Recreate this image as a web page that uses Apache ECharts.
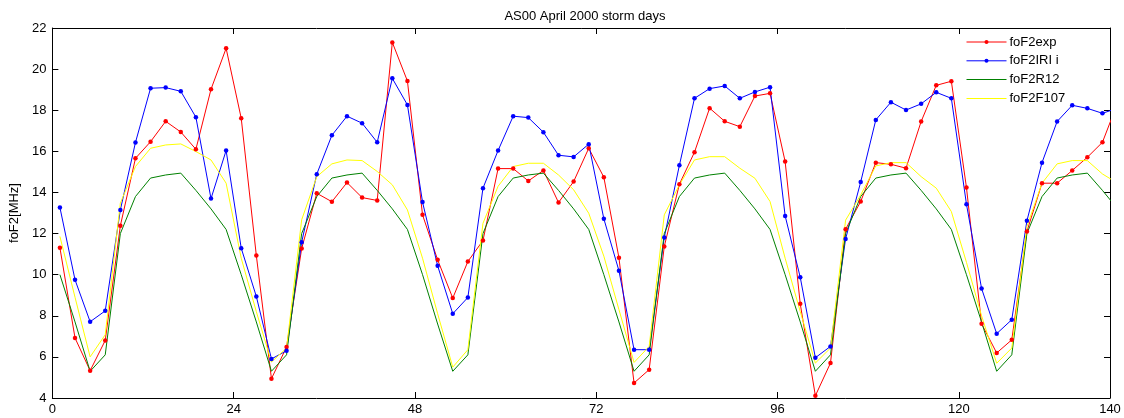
<!DOCTYPE html>
<html>
<head>
<meta charset="utf-8">
<script src="https://cdn.jsdelivr.net/npm/echarts@6/dist/echarts.min.js"></script>
<style>
html,body{margin:0;padding:0;background:#fff;}
#chart{width:1124px;height:418px;}
</style>
</head>
<body>
<div id="chart"></div>
<script>
// Hours (UT, odd hours) of each sample
const hours = [1,3,5,7,9,11,13,15,17,19,21,23,
  25,27,29,31,33,35,37,39,41,43,45,47,
  49,51,53,55,57,59,61,63,65,67,69,71,
  73,75,77,79,81,83,85,87,89,91,93,95,
  97,99,101,103,105,107,109,111,113,115,117,119,
  121,123,125,127,129,131,133,135,137,139,141];

const foF2exp = [11.31,6.92,5.33,6.80,12.38,15.66,16.47,17.46,16.94,16.10,19.02,21.01,
  17.61,10.93,4.94,6.48,11.27,13.96,13.55,14.48,13.75,13.61,21.30,19.42,
  12.91,10.72,8.86,10.64,11.66,15.16,15.16,14.56,15.07,13.51,14.53,16.15,
  14.74,10.82,4.73,5.38,11.37,14.40,15.96,18.10,17.46,17.20,18.69,18.82,
  15.50,8.58,4.11,5.70,12.21,13.56,15.45,15.37,15.18,17.45,19.21,19.41,
  14.24,7.61,6.19,6.83,12.10,14.45,14.45,15.07,15.71,16.44,18.35];

const foF2IRI = [13.27,9.75,7.71,8.24,13.15,16.43,19.07,19.10,18.92,17.66,13.70,16.04,
  11.29,8.94,5.90,6.30,11.58,14.89,16.78,17.71,17.37,16.44,19.55,18.26,
  13.53,10.43,8.10,8.89,14.21,16.04,17.71,17.64,16.93,15.81,15.73,16.35,
  12.72,10.19,6.35,6.35,11.81,15.32,18.58,19.05,19.18,18.58,18.89,19.12,
  12.86,9.87,5.96,6.51,11.74,14.51,17.53,18.39,18.01,18.31,18.87,18.58,
  13.43,9.33,7.13,7.81,12.62,15.45,17.45,18.24,18.09,17.85,18.10];

const foF2R12 = [10.0,7.7,5.3,6.1,12.0,13.8,14.7,14.85,14.94,14.1,13.2,12.2,
  10.0,7.7,5.3,6.1,12.0,13.8,14.7,14.85,14.94,14.1,13.2,12.2,
  10.0,7.6,5.3,6.1,12.0,13.8,14.7,14.85,14.94,14.1,13.2,12.2,
  10.0,7.7,5.3,6.1,12.0,13.8,14.7,14.85,14.94,14.1,13.2,12.2,
  10.0,7.7,5.3,6.1,12.0,13.8,14.7,14.85,14.94,14.1,13.2,12.2,
  10.0,7.7,5.3,6.1,12.0,13.8,14.7,14.85,14.94,14.1,13.2];

const foF2F107 = [11.86,8.9,6.0,7.08,13.48,15.26,16.15,16.31,16.36,15.99,15.58,14.45,
  10.8,8.2,5.75,6.43,12.67,14.77,15.39,15.58,15.55,15.02,14.37,13.15,
  10.8,8.1,5.5,6.35,12.5,14.3,15.26,15.42,15.42,14.85,14.13,12.99,
  10.9,8.3,5.73,6.51,12.91,14.37,15.58,15.74,15.74,15.18,14.69,13.56,
  10.8,8.2,5.7,6.43,12.65,13.88,15.29,15.45,15.45,14.77,14.21,13.07,
  10.6,8.0,5.69,6.43,12.34,14.45,15.39,15.55,15.55,14.9,14.45];

const seriesNames = ['foF2exp','foF2IRI i','foF2R12','foF2F107'];
const xTickMin = 0, xTickMax = 140, xTickStep = 24;
const yTickMin = 4, yTickMax = 22, yTickStep = 2;

const pair = arr => hours.map((h, i) => [h, arr[i]]);
const FONT = '"Liberation Sans", Arial, sans-serif';
const LINE_ICON = 'path://M0,0H40V1H0Z';

const axisCommon = {
  type: 'value',
  axisLine: {show: true, onZero: false, lineStyle: {color: '#000', width: 1}},
  axisTick: {show: true, inside: true, length: 6, lineStyle: {color: '#000'}},
  splitLine: {show: false},
};

const chart = echarts.init(document.getElementById('chart'), null, {renderer: 'canvas'});
chart.setOption({
  animation: false,
  backgroundColor: '#fff',
  title: {
    text: 'AS00 April 2000 storm days',
    left: 580, textAlign: 'center', top: 5,
    textStyle: {fontFamily: FONT, fontSize: 13, fontWeight: 'normal', color: '#000'}
  },
  grid: {left: 50, right: 14, top: 28, bottom: 20, containLabel: false},
  legend: {
    orient: 'vertical', left: 961, top: 30.5,
    itemWidth: 40, itemHeight: 5, itemGap: 5.8,
    lineStyle: {width: 1},
    textStyle: {fontFamily: FONT, fontSize: 13, lineHeight: 13, color: '#000', padding: [0,0,0,-2]},
    data: [
      {name: seriesNames[0]},
      {name: seriesNames[1]},
      {name: seriesNames[2], icon: LINE_ICON},
      {name: seriesNames[3], icon: LINE_ICON}
    ]
  },
  xAxis: [
    Object.assign({}, axisCommon, {
      position: 'bottom', min: xTickMin, max: xTickMax, interval: xTickStep,
      axisLabel: {show: true, color: '#000', fontFamily: FONT, fontSize: 13, margin: 5}
    }),
    Object.assign({}, axisCommon, {
      position: 'top', min: xTickMin, max: xTickMax, interval: xTickStep,
      axisLabel: {show: false}
    })
  ],
  yAxis: [
    Object.assign({}, axisCommon, {
      position: 'left', min: yTickMin, max: yTickMax, interval: yTickStep,
      name: 'foF2[MHz]', nameLocation: 'middle', nameGap: 25, nameRotate: 90,
      nameTextStyle: {fontFamily: FONT, fontSize: 13, color: '#000'},
      axisLabel: {show: true, color: '#000', fontFamily: FONT, fontSize: 13, margin: 6}
    }),
    Object.assign({}, axisCommon, {
      position: 'right', min: yTickMin, max: yTickMax, interval: yTickStep,
      axisLabel: {show: false}
    })
  ],
  series: [
    {name: seriesNames[0], type: 'line', data: pair(foF2exp), clip: true,
     symbol: 'circle', symbolSize: 4.5, showSymbol: true,
     lineStyle: {color: '#ff0000', width: 1}, itemStyle: {color: '#ff0000'}},
    {name: seriesNames[1], type: 'line', data: pair(foF2IRI), clip: true,
     symbol: 'circle', symbolSize: 4.5, showSymbol: true,
     lineStyle: {color: '#0000ff', width: 1}, itemStyle: {color: '#0000ff'}},
    {name: seriesNames[2], type: 'line', data: pair(foF2R12), clip: true,
     symbol: 'none',
     lineStyle: {color: '#008000', width: 1}, itemStyle: {color: '#008000'}},
    {name: seriesNames[3], type: 'line', data: pair(foF2F107), clip: true,
     symbol: 'none',
     lineStyle: {color: '#ffff00', width: 1}, itemStyle: {color: '#ffff00'}}
  ]
});
</script>
</body>
</html>
